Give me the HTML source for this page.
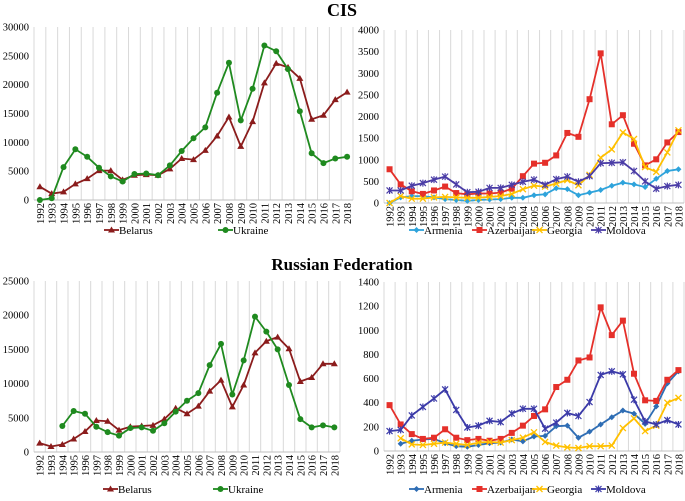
<!DOCTYPE html>
<html><head><meta charset="utf-8"><style>
body{margin:0;background:#fff;}
svg text{font-family:"Liberation Serif",serif;}
</style></head><body>
<svg id="c" width="685" height="496" xmlns="http://www.w3.org/2000/svg">
<text x="342" y="16" text-anchor="middle" font-size="18" font-weight="bold">CIS</text>
<text x="342" y="270" text-anchor="middle" font-size="17" font-weight="bold">Russian Federation</text>
</svg>
<script>
const years=['1992','1993','1994','1995','1996','1997','1998','1999','2000','2001','2002','2003','2004','2005','2006','2007','2008','2009','2010','2011','2012','2013','2014','2015','2016','2017','2018'];
const cisBelarus=[2300,1100,1400,2800,3700,5100,5100,3500,4300,4400,4300,5400,7200,7000,8600,11100,14400,9300,13600,20300,23700,23000,21100,14000,14700,17400,18700];
const cisUkraine=[0,300,5700,8800,7500,5600,4100,3200,4500,4600,4300,6000,8500,10700,12600,18600,23800,13800,19300,26800,25800,22700,15400,8100,6400,7200,7500];
const cisArmenia=[0,130,160,160,130,90,70,50,70,80,90,120,120,180,200,340,320,180,240,300,400,470,430,370,560,740,780];
const cisAzerbaijan=[780,430,270,210,290,380,230,200,220,220,240,330,620,910,930,1100,1620,1530,2400,3460,1820,2030,1370,870,1010,1400,1640];
const cisGeorgia=[0,160,100,100,130,140,130,120,120,140,160,210,320,400,380,450,530,410,650,1050,1240,1630,1480,830,720,1170,1680];
const cisMoldova=[290,290,400,460,540,610,430,250,260,350,350,420,490,540,420,550,610,490,620,920,930,940,740,500,330,390,420];
const ruBelarus=[1300,800,1100,1900,3000,4600,4500,3200,3700,3800,3900,4800,6400,5600,6700,8900,10500,6600,9800,14500,16200,16800,15100,10300,10900,12900,12900];
const ruUkraine=[null,null,3800,6000,5600,3700,2900,2400,3500,3600,3100,4200,5900,7500,8600,12700,15800,8400,13400,19800,17600,15000,9800,4800,3600,3900,3600];
const ruArmenia=[null,60,85,95,100,65,40,35,50,65,70,95,80,120,125,205,210,110,160,220,280,335,310,225,370,560,660];
const ruAzerbaijan=[380,220,140,100,110,180,110,90,100,85,100,150,210,290,345,530,590,750,775,1190,960,1080,640,420,415,590,670];
const ruGeorgia=[null,105,55,50,60,70,60,50,70,75,70,90,110,155,75,45,30,25,40,40,45,190,270,165,210,400,440];
const ruMoldova=[165,175,295,365,435,510,340,195,210,250,240,310,350,350,185,235,315,290,405,630,660,635,425,245,220,255,220];
const tlTicks=[0,5000,10000,15000,20000,25000,30000];
const trTicks=[0,500,1000,1500,2000,2500,3000,3500,4000];
const blTicks=[0,5000,10000,15000,20000,25000];
const brTicks=[0,200,400,600,800,1000,1200,1400];

const svg=document.getElementById('c');
const NS='http://www.w3.org/2000/svg';
function mk(tag,attrs,parent){const e=document.createElementNS(NS,tag);for(const k in attrs)e.setAttribute(k,attrs[k]);(parent||svg).appendChild(e);return e;}

function marker(g,type,x,y,col){
  if(type==='tri')mk('polygon',{points:`${x},${y-3.5} ${x-3.5},${y+2.5} ${x+3.5},${y+2.5}`,fill:col},g);
  else if(type==='circ')mk('circle',{cx:x,cy:y,r:3,fill:col},g);
  else if(type==='sq')mk('rect',{x:x-3,y:y-3,width:6,height:6,fill:col},g);
  else if(type==='dia')mk('polygon',{points:`${x},${y-3} ${x+3},${y} ${x},${y+3} ${x-3},${y}`,fill:col},g);
  else if(type==='x'){mk('path',{d:`M${x-3},${y-3}L${x+3},${y+3}M${x-3},${y+3}L${x+3},${y-3}`,stroke:col,'stroke-width':1.3},g);}
  else if(type==='star'){mk('path',{d:`M${x-3},${y-3}L${x+3},${y+3}M${x-3},${y+3}L${x+3},${y-3}M${x},${y-3.5}L${x},${y+3.5}`,stroke:col,'stroke-width':1.2},g);}
}

function panel(name,L,R,T,B,max,ticks,series,legY,legX){
  const g=mk('g',{});
  
  
  const n=years.length, step=(R-L)/n;
  const x=i=>L+step*(i+0.5);
  const y=v=>B-(v/max)*(B-T);
  for(let i=0;i<=n;i++){const l=mk('line',{x1:L+step*i,x2:L+step*i,y1:T,y2:B,stroke:'#d9d9d9','stroke-width':1},g);}
  mk('line',{x1:L,x2:R,y1:B,y2:B,stroke:'#bfbfbf'},g);
  ticks.forEach(t=>{const tx=mk('text',{x:L-5,y:y(t)+3.5,'text-anchor':'end','font-size':10.5},g);tx.textContent=t;});
  years.forEach((yr,i)=>{const tx=mk('text',{transform:`translate(${x(i)+4},${B+3}) rotate(-90)`,'text-anchor':'end','font-size':10.5},g);tx.textContent=yr;});
  series.forEach(s=>{
    const sg=mk('g',{},g);
    
    
    let d='';let pen=false;
    s.data.forEach((v,i)=>{if(v===null){pen=false;return;}d+=(pen?'L':'M')+x(i).toFixed(1)+','+y(v).toFixed(1);pen=true;});
    mk('path',{d,fill:'none',stroke:s.col,'stroke-width':1.8},sg);
    s.data.forEach((v,i)=>{if(v!==null)marker(sg,s.m,x(i),y(v),s.col);});
  });
  series.forEach((s,k)=>{
    const lg=mk('g',{},g);
    
    
    const lx=legX[k];
    mk('line',{x1:lx,x2:lx+15,y1:legY,y2:legY,stroke:s.col,'stroke-width':1.8},lg);
    marker(lg,s.m,lx+7.5,legY,s.col);
    const t=mk('text',{x:lx+15,y:legY+4,'font-size':11},lg);t.textContent=s.label;
  });
}
panel('cis-belarus-ukraine-chart',34,353,27,200,30000,tlTicks,[
 {label:'Belarus',data:cisBelarus,col:'#8b1c1c',m:'tri'},
 {label:'Ukraine',data:cisUkraine,col:'#1f8a1f',m:'circ'}],230,[104,218]);
panel('cis-small-countries-chart',384,684,30,203,4000,trTicks,[
 {label:'Armenia',data:cisArmenia,col:'#2ea3db',m:'dia'},
 {label:'Azerbaijan',data:cisAzerbaijan,col:'#e5302a',m:'sq'},
 {label:'Georgia',data:cisGeorgia,col:'#ffc000',m:'x'},
 {label:'Moldova',data:cisMoldova,col:'#4a3ca6',m:'star'}],230,[409,472,532,591]);
panel('russia-belarus-ukraine-chart',34,340,281,452,25000,blTicks,[
 {label:'Belarus',data:ruBelarus,col:'#8b1c1c',m:'tri'},
 {label:'Ukraine',data:ruUkraine,col:'#1f8a1f',m:'circ'}],489,[103,213]);
panel('russia-small-countries-chart',384,684,282,451,1400,brTicks,[
 {label:'Armenia',data:ruArmenia,col:'#2e6db4',m:'dia'},
 {label:'Azerbaijan',data:ruAzerbaijan,col:'#e5302a',m:'sq'},
 {label:'Georgia',data:ruGeorgia,col:'#ffc000',m:'x'},
 {label:'Moldova',data:ruMoldova,col:'#3b3aa8',m:'star'}],489,[409,472,532,591]);
</script>
</body></html>
